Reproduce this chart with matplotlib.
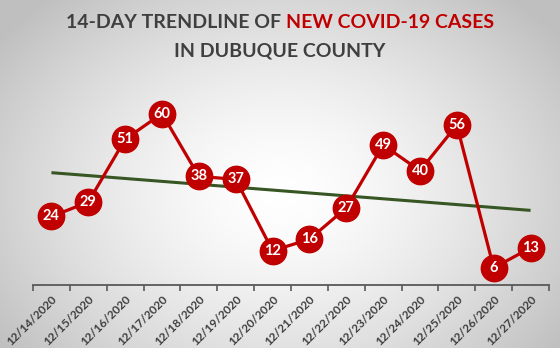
import numpy as np
import matplotlib
matplotlib.use("Agg")
import matplotlib.pyplot as plt
from matplotlib.ticker import FixedLocator, NullFormatter

dates = ["12/14/2020", "12/15/2020", "12/16/2020", "12/17/2020", "12/18/2020",
         "12/19/2020", "12/20/2020", "12/21/2020", "12/22/2020", "12/23/2020",
         "12/24/2020", "12/25/2020", "12/26/2020", "12/27/2020"]
cases = [24, 29, 51, 60, 38, 37, 12, 16, 27, 49, 40, 56, 6, 13]

RED = "#C00000"
GREEN = "#375623"
DARK = "#3F3F3F"
FONT = "Lato"

W, H = 560, 348
fig = plt.figure(figsize=(W / 100, H / 100), dpi=100)

# radial gradient background
bg = fig.add_axes([0, 0, 1, 1])
yy, xx = np.mgrid[0:H, 0:W]
cx, cy = W * 0.5, H * 0.55
r = np.sqrt(((xx - cx) / (W * 0.62)) ** 2 + ((yy - cy) / (H * 0.75)) ** 2)
r = np.clip(r, 0, 1)
v = 1.0 - 0.25 * r ** 1.5
img = np.dstack([v, v, v])
bg.imshow(img, aspect="auto", extent=[0, 1, 0, 1], origin="upper")
bg.set_axis_off()

ax = fig.add_axes([33 / W, (H - 285) / H, (549 - 33) / W, 200 / H])
ax.patch.set_alpha(0)
x = np.arange(len(cases))

# trendline (linear regression)
k, b = np.polyfit(x, cases, 1)
ax.plot(x, k * x + b, color=GREEN, lw=2.2, zorder=2, solid_capstyle="butt")

ax.plot(x, cases, color=RED, lw=2.3, zorder=3, marker="o", markersize=19,
        markerfacecolor=RED, markeredgecolor=RED)
for xi, yi in zip(x, cases):
    ax.text(xi, yi, str(yi), color="white", ha="center", va="center",
            fontsize=10.5, fontweight="bold", family=FONT, zorder=4)

ax.set_xlim(-0.5, len(cases) - 0.5)
ax.set_ylim(0, 70)
for s in ["top", "right", "left"]:
    ax.spines[s].set_visible(False)
ax.spines["bottom"].set_color("#595959")
ax.spines["bottom"].set_linewidth(1.3)
ax.set_yticks([])

ax.xaxis.set_major_locator(FixedLocator(np.arange(-0.5, len(cases), 1.0)))
ax.xaxis.set_major_formatter(NullFormatter())
ax.tick_params(axis="x", which="major", length=4, width=1.2, color="#595959", direction="out")
ax.xaxis.set_minor_locator(FixedLocator(x))
ax.set_xticklabels(dates, minor=True)
ax.tick_params(axis="x", which="minor", length=0, pad=6)
for lbl in ax.get_xticklabels(minor=True):
    lbl.set_rotation(45)
    lbl.set_ha("right")
    lbl.set_va("top")
    lbl.set_rotation_mode("anchor")
    lbl.set_fontsize(8.5)
    lbl.set_fontweight("bold")
    lbl.set_family(FONT)
    lbl.set_color(DARK)

# title
tsize = 14
t1 = fig.text(0.5, 1 - 23 / H, "14-DAY TRENDLINE OF ", color=DARK, fontsize=tsize,
              fontweight="bold", family=FONT, ha="right", va="center")
t2 = fig.text(0.5, 1 - 23 / H, "NEW COVID-19 CASES", color=RED, fontsize=tsize,
              fontweight="bold", family=FONT, ha="left", va="center")
fig.canvas.draw()
r = fig.canvas.get_renderer()
w1 = t1.get_window_extent(r).width
w2 = t2.get_window_extent(r).width
shift = (w1 - w2) / 2 / W
t1.set_x(0.5 + shift)
t2.set_x(0.5 + shift)
fig.text(0.5, 1 - 51 / H, "IN DUBUQUE COUNTY", color=DARK, fontsize=tsize,
         fontweight="bold", family=FONT, ha="center", va="center")

fig.savefig("out.png", dpi=100)
